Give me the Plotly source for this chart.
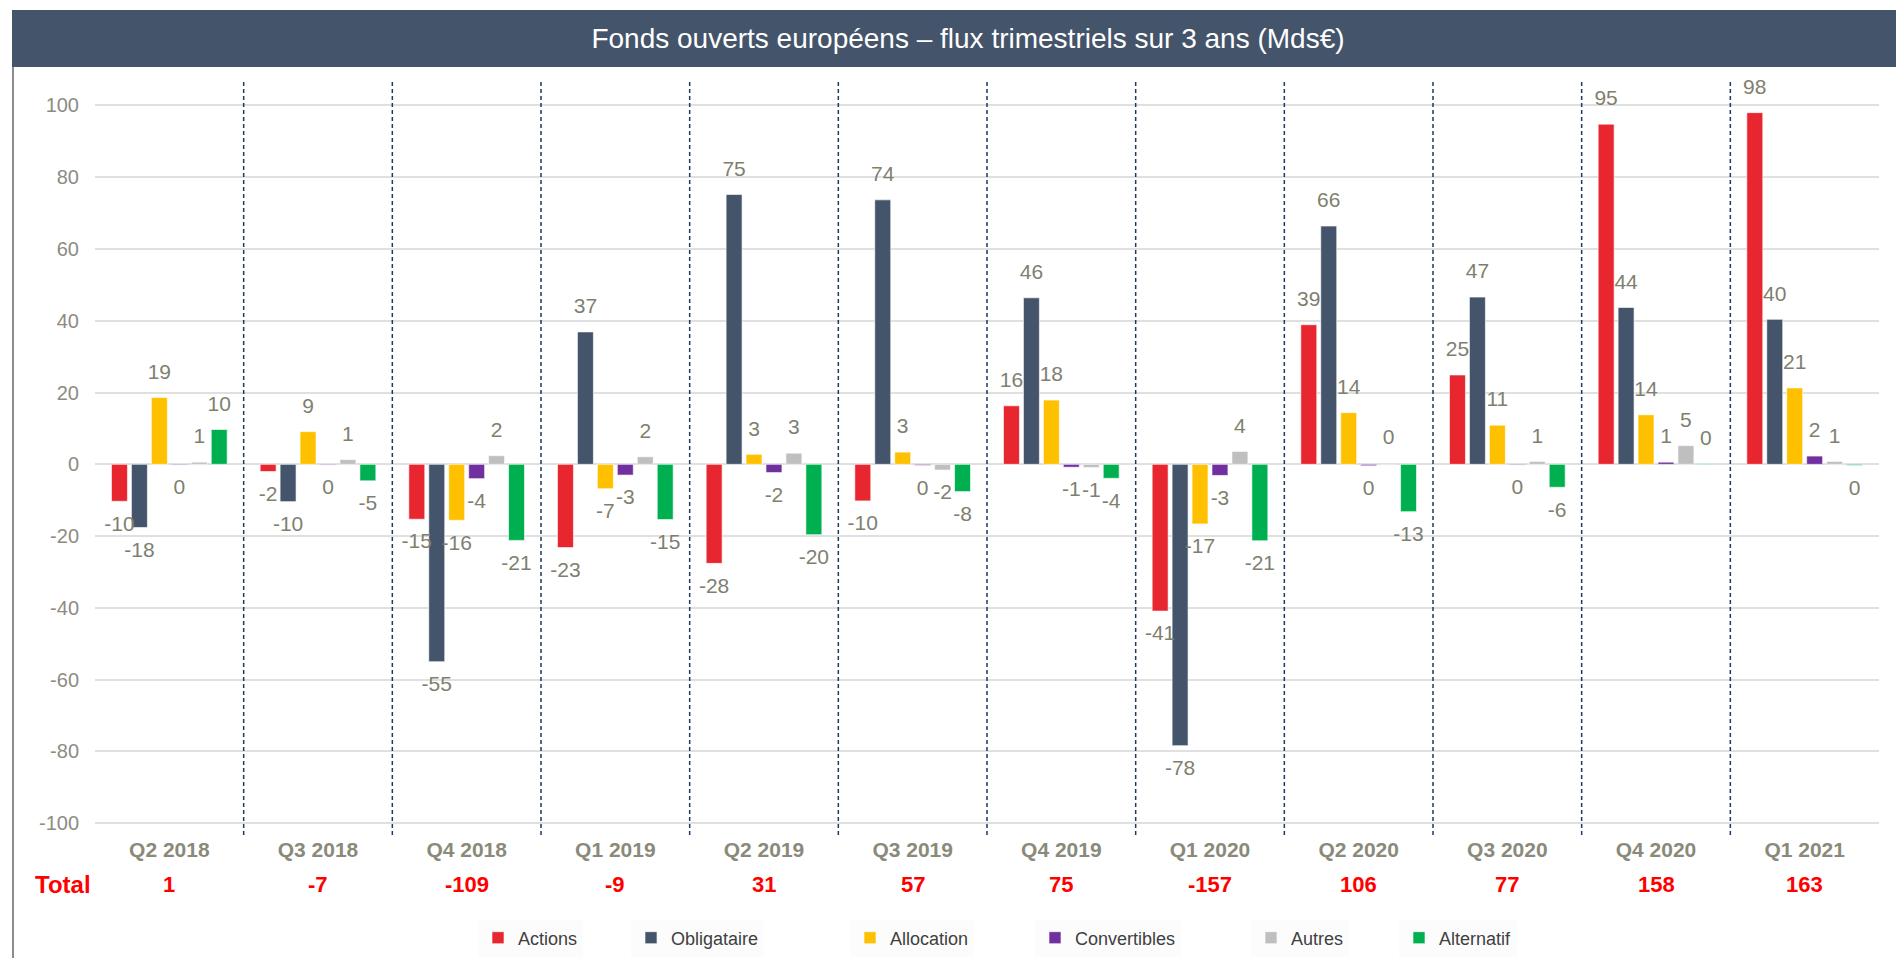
import plotly.graph_objects as go

# ---------------- data ----------------
quarters = ["Q2 2018", "Q3 2018", "Q4 2018", "Q1 2019", "Q2 2019", "Q3 2019",
            "Q4 2019", "Q1 2020", "Q2 2020", "Q3 2020", "Q4 2020", "Q1 2021"]

actions      = [-10.3, -2.0, -15.3, -23.2, -27.6, -10.2, 16.3, -40.9, 38.9, 24.9, 94.8, 98.0]
obligataire  = [-17.6, -10.4, -55.0, 36.9, 75.2, 73.7, 46.4, -78.4, 66.4, 46.6, 43.7, 40.4]
allocation   = [18.6, 9.1, -15.6, -6.8, 2.8, 3.4, 17.9, -16.6, 14.4, 10.9, 13.8, 21.3]
convertibles = [-0.2, -0.2, -4.0, -3.0, -2.3, -0.3, -0.8, -3.1, -0.4, -0.2, 0.6, 2.3]
autres       = [0.6, 1.3, 2.4, 2.1, 3.1, -1.6, -0.9, 3.6, 0.3, 0.8, 5.2, 0.8]
alternatif   = [9.7, -4.6, -21.2, -15.4, -19.6, -7.6, -3.9, -21.3, -13.2, -6.4, 0.2, -0.3]

totals = [1, -7, -109, -9, 31, 57, 75, -157, 106, 77, 158, 163]

series_names = ["Actions", "Obligataire", "Allocation", "Convertibles", "Autres", "Alternatif"]
series_values = [actions, obligataire, allocation, convertibles, autres, alternatif]
series_colors = ["#e8262f", "#44546a", "#ffc000", "#7030a0", "#bfbfbf", "#00b050"]

y_ticks = [-100, -80, -60, -40, -20, 0, 20, 40, 60, 80, 100]

# ---------------- layout constants (page pixels) ----------------
W, H = 1904, 958
OFF = 8                                   # default page margin of the html body
PL, PR, PT, PB = 95, 1879, 80, 835        # plot area in page pixels
YMIN, YMAX = -103.3, 107.1
legend_px = [497, 650, 869, 1054, 1270, 1418]  # legend swatch centres (page px)
FONT = "Liberation Sans, Arial, sans-serif"
GAP = 0.195

fl, fr, ft, fb = PL - OFF, PR - OFF, PT - OFF, PB - OFF   # figure coords

def px_x(x):
    return (x - OFF - fl) / (fr - fl)

def px_y(y):
    return (fb - (y - OFF)) / (fb - ft)

fig = go.Figure()

for i, (name, vals, col) in enumerate(zip(series_names, series_values, series_colors)):
    fig.add_trace(go.Bar(
        x=quarters, y=vals, name=name,
        marker=dict(color=col, line=dict(color="rgba(255,255,255,0.6)", width=1)),
        legend="legend" if i == 0 else f"legend{i+1}",
        hoverinfo="x+y+name",
    ))

# data labels (outside end, Excel-like spacing)
for i, (name, vals) in enumerate(zip(series_names, series_values)):
    fig.add_trace(go.Scatter(
        x=quarters, y=vals, mode="markers+text",
        text=[str(int(round(v))) for v in vals],
        textposition=["top center" if v >= 0 else "bottom center" for v in vals],
        marker=dict(size=20, color="rgba(0,0,0,0)"),
        textfont=dict(family=FONT, size=21, color="#7f7f70"),
        cliponaxis=False, showlegend=False, hoverinfo="skip",
    ))

shapes = []
# title banner
shapes.append(dict(type="rect", xref="paper", yref="paper",
                   x0=px_x(12), x1=px_x(1912), y0=px_y(67), y1=px_y(10),
                   fillcolor="#44546a", line=dict(width=0), layer="below"))
# left border
shapes.append(dict(type="line", xref="paper", yref="paper",
                   x0=px_x(13), x1=px_x(13), y0=px_y(966), y1=px_y(67),
                   line=dict(color="#8c8c8c", width=2)))
# dashed separators
for k in range(len(quarters) - 1):
    shapes.append(dict(type="line", xref="x", yref="paper",
                       x0=k + 0.5, x1=k + 0.5, y0=0, y1=1,
                       line=dict(color="#1f3864", width=1.5, dash="4px,3px")))

annotations = []
annotations.append(dict(text="<b>Total</b>", xref="paper", yref="paper",
                        x=px_x(63), y=px_y(884), showarrow=False,
                        xanchor="center", yanchor="middle",
                        font=dict(family=FONT, size=24, color="#ff0000")))
for q, t in zip(quarters, totals):
    annotations.append(dict(text=f"<b>{t}</b>", xref="x", yref="paper",
                            x=q, y=px_y(884), showarrow=False,
                            xanchor="center", yanchor="middle",
                            font=dict(family=FONT, size=22, color="#ff0000")))

legend_common = dict(orientation="h", xanchor="left", yanchor="middle",
                     bgcolor="#fcfcfd", font=dict(family=FONT, size=18, color="#404040"),
                     itemclick=False, itemdoubleclick=False)
legends = {}
for i, mx in enumerate(legend_px):
    key = "legend" if i == 0 else f"legend{i+1}"
    legends[key] = dict(legend_common, x=px_x(mx - 19), y=px_y(938))

fig.update_layout(
    width=W, height=H,
    margin=dict(l=fl, r=W - fr, t=ft, b=H - fb, pad=0, autoexpand=False),
    paper_bgcolor="white", plot_bgcolor="white",
    barmode="group", bargap=GAP, bargroupgap=0.2,
    scattermode="group", scattergap=GAP,
    showlegend=True,
    title=dict(text="Fonds ouverts européens – flux trimestriels sur 3 ans (Mds€)",
               x=(968 - OFF) / W, xanchor="center", y=1 - (38.5 - OFF) / H, yanchor="middle",
               xref="container", yref="container",
               font=dict(family=FONT, size=28, color="white")),
    xaxis=dict(showgrid=False, showline=False, zeroline=False, ticks="",
               automargin=False,
               tickfont=dict(family=FONT, size=21, color="#8a8a7a", weight="bold")),
    yaxis=dict(range=[YMIN, YMAX], tickvals=y_ticks, ticktext=[str(v) for v in y_ticks],
               showgrid=True, automargin=False,
               gridcolor="#e0e0e0", gridwidth=1.5, zeroline=True,
               zerolinecolor="#e0e0e0", zerolinewidth=1.5, showline=False,
               ticks="", ticklabelstandoff=15,
               tickfont=dict(family=FONT, size=20, color="#8c8c82")),
    shapes=shapes,
    annotations=annotations,
    font=dict(family=FONT),
    **legends,
)

fig.write_html("out.html")
